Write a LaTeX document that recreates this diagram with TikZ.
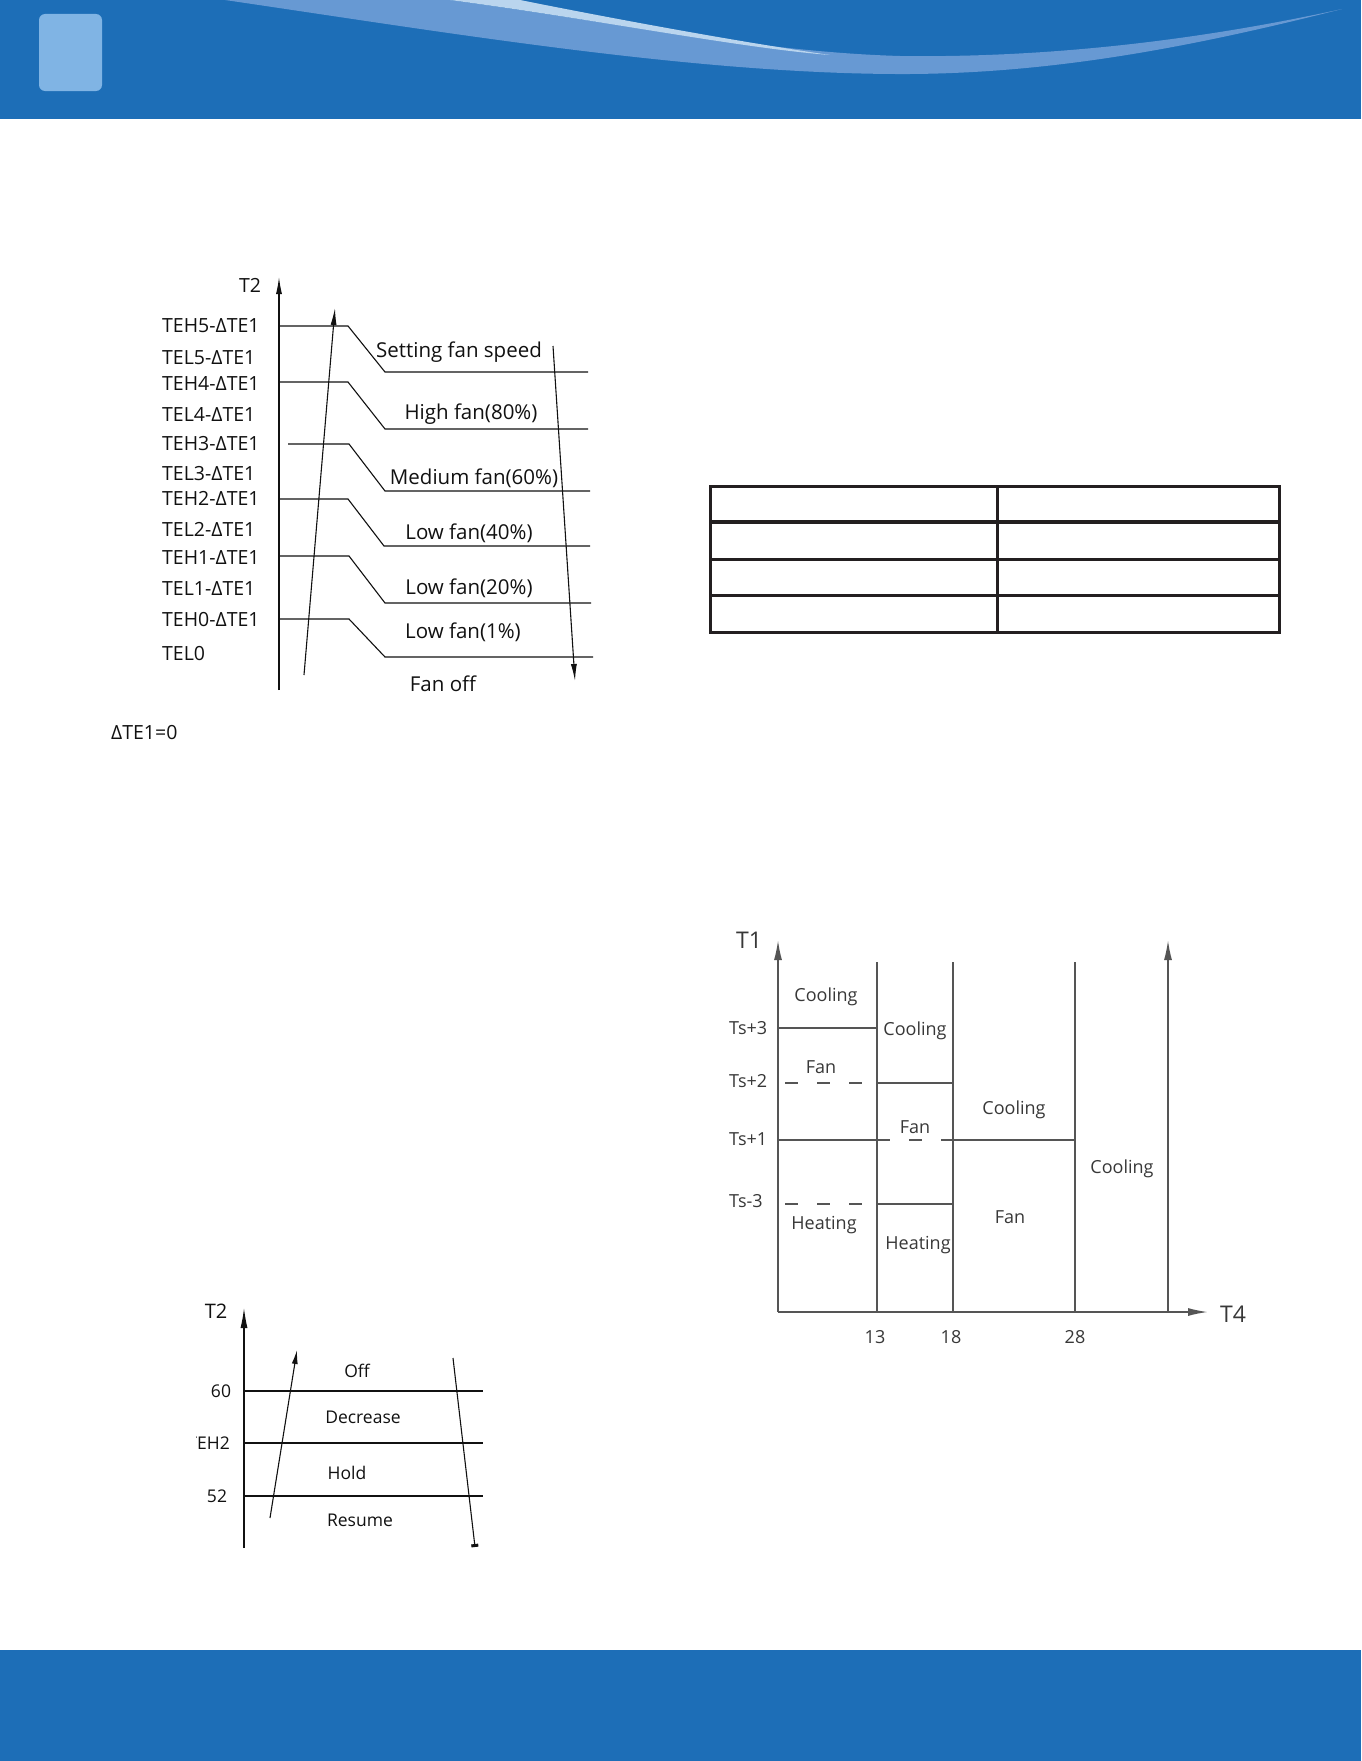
\documentclass[tikz,border=0pt]{standalone}
\usepackage{fontspec}
\setmainfont{Open Sans}
\usetikzlibrary{arrows.meta}
\definecolor{hdrblue}{HTML}{1D6EB7}
\definecolor{wavemid}{HTML}{6799D3}
\definecolor{wavelight}{HTML}{BAD5EE}
\definecolor{sqblue}{HTML}{80B4E4}
\definecolor{tabdark}{HTML}{231F20}
\definecolor{inkone}{HTML}{111111}
\definecolor{inkthree}{HTML}{555555}
\definecolor{txtthree}{HTML}{383838}
\begin{document}
\begin{tikzpicture}[x=1pt,y=-1pt,
  oneline/.style={draw=inkone, line width=1.1pt},
  onearrow/.style={oneline, -{Latex[length=17pt,width=6pt]}},
  onetxt/.style={inner sep=0pt, font=\fontsize{19.5}{22}\selectfont, text=inkone, text height=14pt, text depth=0pt},
  onetxtr/.style={inner sep=0pt, font=\fontsize{20.5}{23}\selectfont, text=inkone, text height=14.6pt, text depth=0pt},
  twotxt/.style={inner sep=0pt, font=\fontsize{17.5}{20}\selectfont, text=inkone, text height=12.5pt, text depth=0pt},
  threeline/.style={draw=inkthree, line width=1.6pt},
  threedash/.style={threeline, dash pattern=on 12.5pt off 19.5pt},
  threearrow/.style={threeline, -{Latex[length=20pt,width=8pt]}},
  threetxt/.style={inner sep=0pt, font=\fontsize{18}{20}\selectfont, text=txtthree, text height=13pt, text depth=0pt},
  bigtxt/.style={inner sep=0pt, font=\fontsize{23}{26}\selectfont, text=txtthree, text height=16.5pt, text depth=0pt},
  tabline/.style={draw=tabdark, line width=3pt}
]
\useasboundingbox (0,0) rectangle (1361,1761);
\fill[white] (0,0) rectangle (1361,1761);

% ---------- header ----------
\fill[hdrblue] (0,0) rectangle (1361,119);
\fill[wavemid] (225,0) .. controls (450,33) and (700,75) .. (910,74)
  .. controls (1060,73) and (1200,45) .. (1342,9)
  .. controls (1200,40) and (1050,58) .. (900,56)
  .. controls (760,52) and (600,20) .. (450,0) -- cycle;
\fill[wavelight] (450,0) .. controls (600,20) and (740,48) .. (830,55)
  .. controls (740,42) and (620,20) .. (520,0) -- cycle;
\fill[sqblue, rounded corners=6pt] (39,14) rectangle (102,91);

% ---------- footer ----------
\fill[hdrblue] (0,1650) rectangle (1361,1761);

% ---------- diagram 1 : fan speed ----------
\draw[onearrow] (279,690) -- (279,277);
\node[onetxt] (d1t2) at (250,285) {T2};
\node[onetxt, anchor=west] (teh5) at (162,325) {TEH5-ΔTE1};
\node[onetxt, anchor=west] (tel5) at (162,357) {TEL5-ΔTE1};
\node[onetxt, anchor=west] (teh4) at (162,383) {TEH4-ΔTE1};
\node[onetxt, anchor=west] (tel4) at (162,414) {TEL4-ΔTE1};
\node[onetxt, anchor=west] (teh3) at (162,443) {TEH3-ΔTE1};
\node[onetxt, anchor=west] (tel3) at (162,473) {TEL3-ΔTE1};
\node[onetxt, anchor=west] (teh2) at (162,498) {TEH2-ΔTE1};
\node[onetxt, anchor=west] (tel2) at (162,529) {TEL2-ΔTE1};
\node[onetxt, anchor=west] (teh1) at (162,557) {TEH1-ΔTE1};
\node[onetxt, anchor=west] (tel1) at (162,588) {TEL1-ΔTE1};
\node[onetxt, anchor=west] (teh0) at (162,619) {TEH0-ΔTE1};
\node[onetxt, anchor=west] (tel0) at (162,653) {TEL0};

\draw[oneline] (279,326) -- (348,326) -- (385,372) -- (588,372);
\draw[oneline] (279,382) -- (348,382) -- (385,429) -- (588,429);
\draw[oneline] (288,444) -- (349,444) -- (385,491) -- (590,491);
\draw[oneline] (279,499) -- (348,499) -- (384,546) -- (590,546);
\draw[oneline] (279,556) -- (349,556) -- (385,603) -- (591,603);
\draw[oneline] (279,619) -- (349,619) -- (385,657) -- (593,657);

\draw[onearrow] (304,675) -- (335,308);
\draw[onearrow] (553,346) -- (575,681);

\node[onetxtr] (sfs) at (459,350) {Setting fan speed};
\node[onetxtr] (hf) at (471,412) {High fan(80\%)};
\node[onetxtr] (mf) at (474,477) {Medium fan(60\%)};
\node[onetxtr] (lf4) at (469,532) {Low fan(40\%)};
\node[onetxtr] (lf2) at (469,587) {Low fan(20\%)};
\node[onetxtr] (lf1) at (463,631) {Low fan(1\%)};
\node[onetxtr] (foff) at (443,684) {Fan off};
\node[onetxt, anchor=west] (dte) at (111,732) {ΔTE1=0};

% ---------- table ----------
\draw[tabline] (710,486) rectangle (1279,632);
\draw[tabline, line width=4pt] (710,522) -- (1279,522);
\draw[tabline] (710,559) -- (1279,559);
\draw[tabline] (710,595) -- (1279,595);
\draw[tabline] (997,486) -- (997,632);

% ---------- diagram 3 : T1 / T4 ----------
\draw[threearrow] (778,1312) -- (778,940);
\draw[threearrow] (778,1312) -- (1208,1312);
\draw[threearrow] (1168,1312) -- (1168,940);
\draw[threeline] (877,962) -- (877,1312);
\draw[threeline] (953,962) -- (953,1312);
\draw[threeline] (1075,962) -- (1075,1312);

\draw[threeline] (778,1028) -- (877,1028);
\draw[threedash] (785,1083) -- (870,1083);
\draw[threeline] (877,1083) -- (953,1083);
\draw[threeline] (778,1140) -- (877,1140);
\draw[threedash] (877,1140) -- (953,1140);
\draw[threeline] (953,1140) -- (1075,1140);
\draw[threedash] (785,1204) -- (870,1204);
\draw[threeline] (877,1204) -- (953,1204);

\node[bigtxt] (t1) at (749,940) {T1};
\node[bigtxt] (t4) at (1233,1314) {T4};
\node[threetxt, anchor=west] (ts3) at (729,1028) {Ts+3};
\node[threetxt, anchor=west] (ts2) at (729,1081) {Ts+2};
\node[threetxt, anchor=west] (ts1) at (729,1139) {Ts+1};
\node[threetxt, anchor=west] (tsm3) at (729,1201) {Ts-3};
\node[threetxt] (x13) at (875,1337) {13};
\node[threetxt] (x18) at (951,1337) {18};
\node[threetxt] (x28) at (1075,1337) {28};

\node[threetxt] (c1) at (826,995) {Cooling};
\node[threetxt] (c2) at (915,1029) {Cooling};
\node[threetxt] (f1) at (821,1067) {Fan};
\node[threetxt] (f2) at (915,1127) {Fan};
\node[threetxt] (c3) at (1014,1108) {Cooling};
\node[threetxt] (c4) at (1122,1167) {Cooling};
\node[threetxt] (h1) at (824,1223) {Heating};
\node[threetxt] (h2) at (918,1243) {Heating};
\node[threetxt] (f3) at (1010,1217) {Fan};

% ---------- diagram 2 : T2 protection ----------
\draw[oneline, -{Latex[length=20pt,width=7pt]}] (244,1548) -- (244,1308);
\node[twotxt, font=\fontsize{20}{22}\selectfont, text height=14.3pt] (d2t2) at (216,1311) {T2};
\draw[oneline] (244,1391) -- (483,1391);
\draw[oneline] (244,1443) -- (483,1443);
\draw[oneline] (244,1496) -- (483,1496);
\node[twotxt] (l60) at (221,1391) {60};
\begin{scope}
  \clip (196,1425) rectangle (240,1460);
  \node[twotxt, anchor=east] (leh2) at (230,1443) {TEH2};
\end{scope}
\node[twotxt] (l52) at (217,1496) {52};
\draw[oneline, -{Latex[length=14pt,width=6pt]}] (270,1518) -- (297,1350);
\draw[oneline, -{Rectangle[length=3pt,width=7pt]}] (453,1358) -- (475,1547);
\node[twotxt] (off) at (357,1371) {Off};
\node[twotxt] (dec) at (363,1417) {Decrease};
\node[twotxt] (hold) at (347,1473) {Hold};
\node[twotxt] (res) at (360,1520) {Resume};
\end{tikzpicture}
\end{document}
